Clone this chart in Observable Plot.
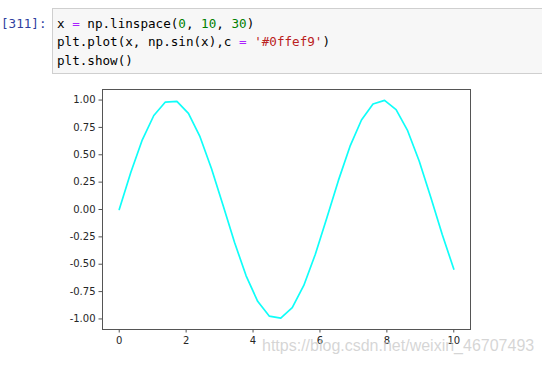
<!DOCTYPE html>
<html>
<head>
<meta charset="utf-8">
<script src="https://cdn.jsdelivr.net/npm/d3@7"></script>
<script src="https://cdn.jsdelivr.net/npm/@observablehq/plot@0.6"></script>
<style>
  html, body { margin: 0; padding: 0; background: #fff; width: 542px; height: 366px; overflow: hidden; }
  .prompt { position: absolute; left: 1px; top: 15px; font: 12.6px "DejaVu Sans Mono", monospace; color: #303F9F; line-height: 18px; white-space: pre; }
  .cell { position: absolute; left: 52px; top: 8px; width: 500px; height: 66px; background: #f7f7f7; border: 1px solid #cfcfcf; box-sizing: border-box; }
  .line { position: absolute; left: 57px; font: 12.6px "DejaVu Sans Mono", monospace; line-height: 18px; color: #000; white-space: pre; }
  .o { color: #AA22FF; }
  .n { color: #008000; }
  .s { color: #BA2121; }
  #chart { position: absolute; left: 0; top: 80px; }
  .wm { position: absolute; left: 262px; top: 337px; font: 16px "Liberation Sans", Arial, sans-serif; color: rgba(200,200,200,0.75); white-space: nowrap; }
</style>
</head>
<body>
<div class="prompt">[311]:</div>
<div class="cell"></div>
<div class="line" style="top:15px"><span>x </span><span class="o">=</span><span> np.linspace(</span><span class="n">0</span><span>, </span><span class="n">10</span><span>, </span><span class="n">30</span><span>)</span></div>
<div class="line" style="top:33.3px"><span>plt.plot(x, np.sin(x),c </span><span class="o">=</span><span> </span><span class="s">'#0ffef9'</span><span>)</span></div>
<div class="line" style="top:51.6px"><span>plt.show()</span></div>
<div id="chart"></div>
<div class="wm">https://blog.csdn.net/weixin_46707493</div>
<script>
const xs = [0, 0.345, 0.690, 1.034, 1.379, 1.724, 2.069, 2.414, 2.759, 3.103,
            3.448, 3.793, 4.138, 4.483, 4.828, 5.172, 5.517, 5.862, 6.207, 6.552,
            6.897, 7.241, 7.586, 7.931, 8.276, 8.621, 8.966, 9.310, 9.655, 10];
const ys = [0, 0.338, 0.637, 0.859, 0.982, 0.988, 0.879, 0.665, 0.373, 0.039,
            -0.302, -0.606, -0.839, -0.974, -0.993, -0.896, -0.694, -0.409, -0.076, 0.266,
            0.576, 0.818, 0.964, 0.997, 0.912, 0.720, 0.443, 0.115, -0.228, -0.544];
const xTicks = [0, 2, 4, 6, 8, 10];
const yTicks = [-1, -0.75, -0.5, -0.25, 0, 0.25, 0.5, 0.75, 1];

const data = xs.map((x, i) => ({x, y: ys[i]}));

const chart = Plot.plot({
  width: 542,
  height: 286,
  marginLeft: 102,
  marginRight: 72,
  marginTop: 9,
  marginBottom: 37,
  style: { fontFamily: "DejaVu Sans, sans-serif", fontSize: "10px", color: "#262626", background: "transparent" },
  x: { domain: [-0.5, 10.5], ticks: xTicks, tickFormat: d => String(d), tickSize: 3.5, tickPadding: 3.5, label: null },
  y: { domain: [-1.0965, 1.0965], ticks: yTicks, tickFormat: d => d.toFixed(2), tickSize: 3.5, tickPadding: 3.5, label: null },
  marks: [
    Plot.line(data, { x: "x", y: "y", stroke: "#0ffef9", strokeWidth: 1.7 }),
    Plot.frame({ stroke: "#555", strokeWidth: 1 }),
    Plot.axisX({ ticks: xTicks, tickFormat: d => String(d), tickSize: 3.5, tickPadding: 3.5, label: null, stroke: "#555" }),
    Plot.axisY({ ticks: yTicks, tickFormat: d => d.toFixed(2), tickSize: 3.5, tickPadding: 3.5, label: null, stroke: "#555" })
  ]
});
document.getElementById("chart").appendChild(chart);
</script>
</body>
</html>
